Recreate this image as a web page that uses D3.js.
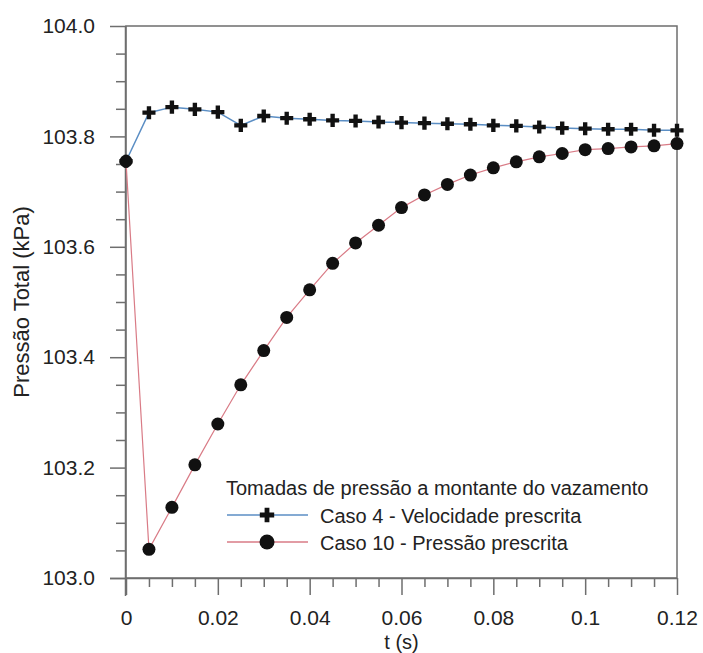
<!DOCTYPE html>
<html><head><meta charset="utf-8">
<script src="https://cdn.jsdelivr.net/npm/d3@7/dist/d3.min.js"></script>
<style>body{margin:0;background:#fff}svg{display:block}</style>
</head><body><svg id="c" width="703" height="653"></svg>
<script>
const tValues = [0,0.005,0.01,0.015,0.02,0.025,0.03,0.035,0.04,0.045,0.05,0.055,0.06,0.065,0.07,0.075,0.08,0.085,0.09,0.095,0.1,0.105,0.11,0.115,0.12];
const caso4 = [103.755,103.843,103.853,103.849,103.844,103.820,103.837,103.833,103.831,103.829,103.828,103.826,103.825,103.824,103.823,103.822,103.820,103.819,103.817,103.815,103.814,103.813,103.813,103.811,103.811];
const caso10 = [103.755,103.052,103.128,103.205,103.279,103.350,103.412,103.472,103.522,103.570,103.607,103.639,103.671,103.694,103.713,103.730,103.743,103.754,103.763,103.769,103.776,103.778,103.781,103.783,103.787];
const xTicks = [0,0.02,0.04,0.06,0.08,0.1,0.12];
const xTickLabels = ["0","0.02","0.04","0.06","0.08","0.1","0.12"];
const xMinorTicks = [0.005,0.01,0.015,0.025,0.03,0.035,0.045,0.05,0.055,0.065,0.07,0.075,0.085,0.09,0.095,0.105,0.11,0.115];
const yTicks = [103.0,103.2,103.4,103.6,103.8,104.0];
const yTickLabels = ["103.0","103.2","103.4","103.6","103.8","104.0"];
const yMinorTicks = [103.05,103.1,103.15,103.25,103.3,103.35,103.45,103.5,103.55,103.65,103.7,103.75,103.85,103.9,103.95];
const seriesNames = ["Caso 4 - Velocidade prescrita","Caso 10 - Pressão prescrita"];
const legendTitle = "Tomadas de pressão a montante do vazamento";
const xTitle = "t (s)";
const yTitle = "Pressão Total (kPa)";

const svg = d3.select("#c");
const font = "'Liberation Sans', Arial, sans-serif";
const L = 126, R = 677, T = 26, B = 578;
const x = d3.scaleLinear().domain([0, 0.12]).range([L, R]);
const y = d3.scaleLinear().domain([103, 104]).range([B, T]);
const axisColor = "#6e6e6e";
const blue = "#5b8ec4", red = "#d97b86";

// frame
svg.append("rect").attr("x", L).attr("y", T).attr("width", R - L).attr("height", B - T)
  .attr("fill", "none").attr("stroke", axisColor).attr("stroke-width", 1.5);

// x axis
const gx = svg.append("g").attr("transform", `translate(0,${B})`);
gx.call(d3.axisBottom(x).tickValues(xTicks).tickSize(17).tickFormat((d, i) => xTickLabels[i]))
  .call(g => g.select(".domain").attr("d", `M${L - 16},0.5H${R}`))
  .call(g => g.selectAll("line").attr("stroke", axisColor).attr("stroke-width", 1.5))
  .call(g => g.select(".domain").attr("stroke", axisColor).attr("stroke-width", 1.5))
  .call(g => g.selectAll("text").attr("font-family", font).attr("font-size", 21).attr("fill", "#222").attr("dy", "0.71em").attr("y", 32.5));
const gxm = svg.append("g").attr("transform", `translate(0,${B})`);
gxm.call(d3.axisBottom(x).tickValues(xMinorTicks).tickSize(9).tickFormat(""))
  .call(g => g.select(".domain").remove())
  .call(g => g.selectAll("line").attr("stroke", axisColor).attr("stroke-width", 1.5));

// y axis
const gy = svg.append("g").attr("transform", `translate(${L},0)`);
gy.call(d3.axisLeft(y).tickValues(yTicks).tickSize(16).tickFormat((d, i) => yTickLabels[i]))
  .call(g => g.select(".domain").attr("d", `M-0.5,${T}V${B + 18}`))
  .call(g => g.selectAll("line").attr("stroke", axisColor).attr("stroke-width", 1.5))
  .call(g => g.select(".domain").attr("stroke", axisColor).attr("stroke-width", 1.5))
  .call(g => g.selectAll("text").attr("font-family", font).attr("font-size", 21).attr("fill", "#222").attr("x", -31));
const gym = svg.append("g").attr("transform", `translate(${L},0)`);
gym.call(d3.axisLeft(y).tickValues(yMinorTicks).tickSize(10).tickFormat(""))
  .call(g => g.select(".domain").remove())
  .call(g => g.selectAll("line").attr("stroke", axisColor).attr("stroke-width", 1.5));

// titles
svg.append("text").attr("x", (L + R) / 2).attr("y", 649).attr("text-anchor", "middle")
  .attr("font-family", font).attr("font-size", 20).attr("fill", "#222").text(xTitle);
svg.append("text").attr("transform", `translate(29,${(T + B) / 2}) rotate(-90)`).attr("text-anchor", "middle")
  .attr("font-family", font).attr("font-size", 22).attr("fill", "#222").text(yTitle);

// lines
const line = vals => d3.line().x((d, i) => x(tValues[i])).y(d => y(d))(vals);
svg.append("path").attr("d", line(caso10)).attr("fill", "none").attr("stroke", red).attr("stroke-width", 1.2);
svg.append("path").attr("d", line(caso4)).attr("fill", "none").attr("stroke", blue).attr("stroke-width", 1.5);

const cross = d3.symbol().type(d3.symbolCross).size(95);
svg.append("g").selectAll("path").data(caso4).join("path")
  .attr("transform", (d, i) => `translate(${x(tValues[i])},${y(d)})`)
  .attr("d", cross).attr("fill", "#111");
svg.append("g").selectAll("circle").data(caso10).join("circle")
  .attr("cx", (d, i) => x(tValues[i])).attr("cy", d => y(d)).attr("r", 6.5).attr("fill", "#111");

// legend
const lg = svg.append("g");
lg.append("text").attr("x", 226).attr("y", 495).attr("font-family", font).attr("font-size", 20).attr("fill", "#222").text(legendTitle);
const entries = [{c: blue, sym: "cross", ly: 515}, {c: red, sym: "circle", ly: 542}];
entries.forEach((e, i) => {
  lg.append("line").attr("x1", 227).attr("x2", 308).attr("y1", e.ly).attr("y2", e.ly).attr("stroke", e.c).attr("stroke-width", 1.3);
  if (e.sym === "cross") {
    lg.append("path").attr("transform", `translate(267,${e.ly})`).attr("d", d3.symbol().type(d3.symbolCross).size(115)).attr("fill", "#111");
  } else {
    lg.append("circle").attr("cx", 267).attr("cy", e.ly).attr("r", 7.5).attr("fill", "#111");
  }
  lg.append("text").attr("x", 320).attr("y", e.ly + 7.5).attr("font-family", font).attr("font-size", 20).attr("fill", "#222").text(seriesNames[i]);
});
</script></body></html>
